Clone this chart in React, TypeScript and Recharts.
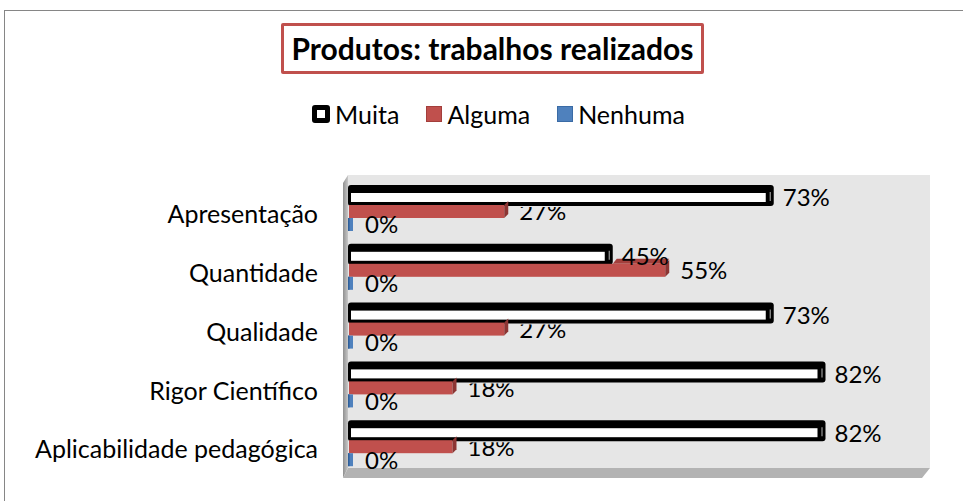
import { BarChart, Bar, XAxis, YAxis, LabelList, ReferenceArea } from "recharts";

const categories = ["Apresentação", "Quantidade", "Qualidade", "Rigor Científico", "Aplicabilidade pedagógica"];
const muita = [73, 45, 73, 82, 82];
const alguma = [27, 55, 27, 18, 18];
const nenhuma = [0, 0, 0, 0, 0];
const seriesNames = ["Muita", "Alguma", "Nenhuma"];

const FONT = "Lato, 'Open Sans', sans-serif";
const RED = "#C0504D";
const RED_TOP = "#A33F3C";
const RED_DARK = "#8C3533";
const BLUE = "#4F81BD";

const data = categories.map((name, i) => ({
  name,
  muita: muita[i],
  alguma: alguma[i],
  nenhuma: nenhuma[i],
}));

// back wall + left wall + floor, like Excel's 3D bar chart
function Walls(props: any) {
  const { x = 0, y = 0, width = 0, height = 0 } = props;
  const right = x + width + 6;
  const top = y - 3;
  const floor = y + height - 4;
  return (
    <g>
      <defs>
        <linearGradient id="wallGrad" x1="0" x2="1" y1="0" y2="0">
          <stop offset="0" stopColor="#909090" />
          <stop offset="1" stopColor="#C8C8C8" />
        </linearGradient>
      </defs>
      <rect x={x - 1} y={top} width={right - x + 1} height={floor - top} fill="#E6E6E6" />
      <polygon
        points={`${x - 6},${top + 8} ${x - 1},${top} ${x - 1},${floor} ${x - 6},${floor + 10}`}
        fill="url(#wallGrad)"
      />
      <polygon
        points={`${x - 6},${floor + 10} ${x - 1},${floor} ${right},${floor} ${right - 8},${floor + 10}`}
        fill="#B3B3B3"
      />
    </g>
  );
}

function MuitaBar(props: any) {
  const { x = 0, y = 0, width = 0 } = props;
  return (
    <g>
      <rect x={x - 1} y={y - 1} width={width + 6} height={21} rx={3} fill="#000" />
      <rect x={x + 2} y={y + 7} width={Math.max(width - 5, 0)} height={9} fill="#fff" />
      <line x1={x + width + 1.5} x2={x + width + 1.5} y1={y + 6} y2={y + 15} stroke="#9a9a9a" strokeWidth={1.2} />
    </g>
  );
}

function AlgumaBar(props: any) {
  const { x = 0, y = 0, width = 0, payload } = props;
  const top = y + 5;
  const h = 13;
  const end = x + width;
  // the part of the top face that is not hidden behind the "Muita" bar
  const muitaEnd = payload && payload.alguma ? x + (width * payload.muita) / payload.alguma + 5 : end;
  return (
    <g>
      {muitaEnd < end && (
        <polygon points={`${muitaEnd},${top} ${end},${top} ${end + 4},${top - 5} ${muitaEnd + 4},${top - 5}`} fill={RED_TOP} />
      )}
      <rect x={x} y={top} width={width} height={h} fill={RED} />
      <polygon
        points={`${end},${top} ${end + 4},${top - 4} ${end + 4},${top + h - 4} ${end},${top + h}`}
        fill={RED_DARK}
      />
    </g>
  );
}

function NenhumaBar(props: any) {
  const { x = 0, y = 0, width = 0 } = props;
  return (
    <g>
      <rect x={x - 1} y={y + 4} width={Math.max(width, 0) + 5} height={13} fill={BLUE} />
      <rect x={x - 1} y={y + 4} width={1.5} height={13} fill="#2F5F99" />
    </g>
  );
}

function makeLabel(dx: number, dy: number, clipUnderMuita: boolean) {
  return (props: any) => {
    const { x = 0, y = 0, width = 0, height = 0, value, index } = props;
    const tx = x + width + dx;
    const ty = y + height / 2 + dy;
    const text = (
      <text x={tx} y={ty} dy="0.35em" fontSize={24} fontFamily={FONT} fill="#000">
        {`${value}%`}
      </text>
    );
    if (clipUnderMuita && muita[index] > alguma[index]) {
      const id = `clip-alguma-${index}`;
      return (
        <g>
          <clipPath id={id}>
            <rect x={tx - 4} y={y + 7} width={90} height={40} />
          </clipPath>
          <g clipPath={`url(#${id})`}>{text}</g>
        </g>
      );
    }
    return text;
  };
}

function CategoryTick(props: any) {
  const { x, y, payload } = props;
  return (
    <text x={x} y={y + 7} dy="0.35em" textAnchor="end" fontSize={25} fontFamily={FONT} fill="#000">
      {payload.value}
    </text>
  );
}

function LegendIcon({ i }: { i: number }) {
  if (i === 0)
    return (
      <span
        style={{ display: "inline-block", width: 8, height: 8, border: "5px solid #000", borderRadius: 3, background: "#fff" }}
      />
    );
  const c = i === 1 ? RED : BLUE;
  const b = i === 1 ? "#A33E3B" : "#3A6BA5";
  return <span style={{ display: "inline-block", width: 14, height: 14, background: c, border: `1px solid ${b}` }} />;
}

export default function App() {
  return (
    <div style={{ position: "absolute", left: 0, top: 0, width: 963, height: 501, overflow: "hidden", background: "#fff" }}>
      <div
        style={{
          position: "absolute",
          left: 4,
          top: 10,
          width: 1100,
          height: 700,
          borderTop: "1px solid #868686",
          borderLeft: "1px solid #868686",
        }}
      />
      <div
        style={{
          position: "absolute",
          left: 281,
          top: 23,
          width: 417,
          height: 45,
          border: "3px solid " + RED,
          borderRadius: 2,
          fontFamily: FONT,
          fontWeight: 700,
          fontSize: 30,
          lineHeight: "45px",
          textAlign: "center",
          color: "#000",
          background: "#fff",
          whiteSpace: "nowrap",
        }}
      >
        Produtos: trabalhos realizados
      </div>
      <div
        style={{
          position: "absolute",
          left: 6,
          top: 99,
          width: 985,
          height: 30,
          display: "flex",
          justifyContent: "center",
          alignItems: "center",
          gap: 27,
          fontFamily: FONT,
          fontSize: 25,
        }}
      >
        {seriesNames.map((n, i) => (
          <div key={n} style={{ display: "flex", alignItems: "center", gap: 5 }}>
            <LegendIcon i={i} />
            <span>{n}</span>
          </div>
        ))}
      </div>
      <BarChart
        width={963}
        height={501}
        data={data}
        layout="vertical"
        margin={{ top: 178, right: 39, bottom: 29, left: 0 }}
        barSize={14}
        barGap={0}
        style={{ position: "absolute", left: 0, top: 0 }}
      >
        <ReferenceArea x1={0} x2={100} shape={<Walls />} fill="none" stroke="none" />
        <XAxis type="number" domain={[0, 100]} hide />
        <YAxis
          type="category"
          dataKey="name"
          width={349}
          axisLine={false}
          tickLine={false}
          tickSize={0}
          tickMargin={31}
          interval={0}
          tick={<CategoryTick />}
        />
        <Bar dataKey="muita" name="Muita" shape={<MuitaBar />} isAnimationActive={false}>
          <LabelList dataKey="muita" content={makeLabel(14, 5, false)} />
        </Bar>
        <Bar dataKey="alguma" name="Alguma" shape={<AlgumaBar />} isAnimationActive={false}>
          <LabelList dataKey="alguma" content={makeLabel(15, 5, true)} />
        </Bar>
        <Bar dataKey="nenhuma" name="Nenhuma" shape={<NenhumaBar />} isAnimationActive={false}>
          <LabelList dataKey="nenhuma" content={makeLabel(16, 4, false)} />
        </Bar>
      </BarChart>
    </div>
  );
}
